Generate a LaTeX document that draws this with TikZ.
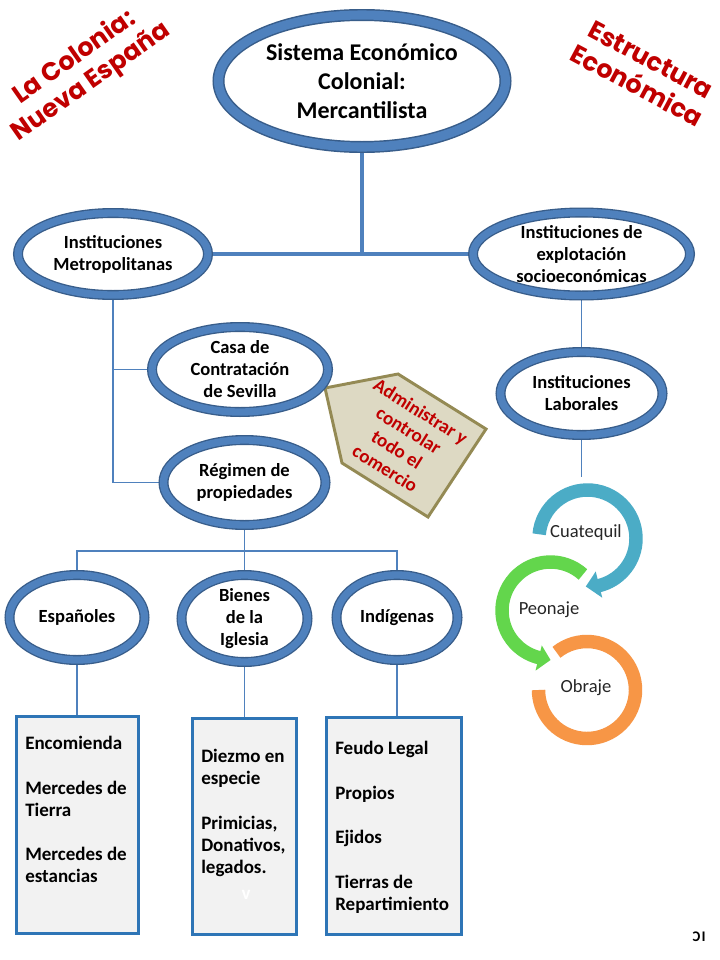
\documentclass[tikz,border=0pt]{standalone}
\usepackage{fontspec}
\setmainfont{Carlito}
\newfontfamily\titlefont{Poppins}
\usetikzlibrary{shapes.geometric,backgrounds}
\definecolor{bblue}{RGB}{79,129,189}
\definecolor{bdark}{RGB}{56,93,138}
\definecolor{boxblue}{RGB}{46,117,182}
\definecolor{boxfill}{RGB}{242,242,242}
\definecolor{tred}{RGB}{192,0,0}
\definecolor{penfill}{RGB}{221,217,195}
\definecolor{penline}{RGB}{148,138,84}
\definecolor{cyblue}{RGB}{75,172,198}
\definecolor{cygreen}{RGB}{99,214,76}
\definecolor{cyorange}{RGB}{247,150,70}
\begin{document}
\begin{tikzpicture}[x=0.75pt,y=-0.75pt,
  ell/.style={ellipse, draw=bdark, line width=1pt, double=bblue, double distance=5.5pt, fill=white, inner sep=0pt},
  etxt/.style={font=\fontsize{13.9pt}{16.5pt}\selectfont\bfseries, align=center, inner sep=0pt},
  btxt/.style={font=\fontsize{14.25pt}{16.5pt}\selectfont\bfseries, align=left, anchor=north west, inner sep=0pt},
  listbox/.style={draw=boxblue, line width=2.2pt, fill=boxfill, inner sep=0pt},
  thinline/.style={draw=bblue, line width=0.9pt},
  thickline/.style={draw=bblue, line width=3.5pt},
  cytxt/.style={font=\fontsize{13.9pt}{16pt}\selectfont, text=black!85, inner sep=0pt},
  ring/.style={line width=10.1pt, line cap=butt},
  ttl/.style={font=\titlefont\bfseries\fontsize{19pt}{22pt}\selectfont, text=tred, align=center, inner sep=0pt}
]
\useasboundingbox (0,0) rectangle (720,960);

% titles
\node[ttl, rotate=35] (t1) at (83,70) {La Colonia:\\Nueva España};
\node[ttl, rotate=-28] (t2) at (644,73) {Estructura\\Económica};

% pentagon callout
\draw[fill=penfill, draw=penline, line width=2.2pt, line join=miter]
  (325,388) -- (398,374) -- (486,429) -- (428,517) -- (342,463) -- cycle;
\node[font=\fontsize{14.3pt}{16.8pt}\selectfont\bfseries, text=tred, align=center, rotate=-32, inner sep=0pt] (admin) at (403,440) {Administrar y\\controlar\\todo el\\comercio};

% ellipses
\node[ell, line width=1.1pt, double distance=6.8pt, minimum width=287*0.75pt, minimum height=132*0.75pt] (top) at (362,81) {};
\node[etxt, font=\fontsize{18pt}{22pt}\selectfont\bfseries] (toptxt) at (top) {Sistema Económico\\Colonial:\\Mercantilista};

\node[ell, minimum width=190*0.75pt, minimum height=82*0.75pt] (metro) at (113,254) {};
\node[etxt] (metrotxt) at (metro) {Instituciones\\Metropolitanas};

\node[ell, minimum width=217*0.75pt, minimum height=83*0.75pt] (explo) at (581.5,254) {};
\node[etxt] (explotxt) at (explo) {Instituciones de\\explotación\\socioeconómicas};

\node[ell, minimum width=162*0.75pt, minimum height=83*0.75pt] (labor) at (581.5,393.5) {};
\node[etxt] (labortxt) at (labor) {Instituciones\\Laborales};

\node[ell, minimum width=176*0.75pt, minimum height=85*0.75pt] (casa) at (240,369.5) {};
\node[etxt] (casatxt) at (casa) {Casa de\\Contratación\\de Sevilla};

\node[ell, minimum width=162*0.75pt, minimum height=85*0.75pt] (regimen) at (244.5,482.5) {};
\node[etxt] (regimentxt) at (regimen) {Régimen de\\propiedades};

\node[ell, minimum width=135*0.75pt, minimum height=85*0.75pt] (esp) at (77,617.5) {};
\node[etxt] (esptxt) at (esp) {Españoles};

\node[ell, minimum width=126*0.75pt, minimum height=87*0.75pt] (bienes) at (244.5,618.5) {};
\node[etxt] (bienestxt) at (bienes) {Bienes\\de la\\Iglesia};

\node[ell, minimum width=121*0.75pt, minimum height=85*0.75pt] (ind) at (397,617.5) {};
\node[etxt] (indtxt) at (ind) {Indígenas};

% list boxes
\node[listbox, minimum width=122*0.75pt, minimum height=217*0.75pt] (b1) at (77.5,825) {};
\node[listbox, minimum width=104*0.75pt, minimum height=216*0.75pt] (b2) at (244.5,826.5) {};
\node[listbox, minimum width=135*0.75pt, minimum height=217*0.75pt] (b3) at (394,826) {};

\node[btxt] (b1t) at (25,736) {Encomienda\\[17pt]Mercedes de\\Tierra\\[17pt]Mercedes de\\estancias};
\node[btxt] (b2t) at (201,749) {Diezmo en\\especie\\[17pt]Primicias,\\Donativos,\\legados.};
\node[btxt] (b3t) at (335,741) {Feudo Legal\\[17pt]Propios\\[17pt]Ejidos\\[17pt]Tierras de\\Repartimiento};
\node[font=\fontsize{14.25pt}{16.5pt}\selectfont\bfseries, text=white, inner sep=0pt] (b2v) at (246,895) {v};

% cycle
\coordinate (co) at (587,690);
\coordinate (cg) at (550.5,610.5);
\coordinate (cb) at (587.5,538.5);
\draw[ring, cyorange] (co) ++(-129:48.5) arc[start angle=-129, end angle=180, radius=48.5];
\draw[ring, cygreen] (cg) ++(-48:48.5) arc[start angle=-48, end angle=-257, radius=48.5];
\fill[cygreen] ([shift={(-256:36)}]cg) -- ([shift={(-270:49.5)}]cg) -- ([shift={(-256:62)}]cg) -- cycle;
\draw[ring, cyblue] (cb) ++(-175:48.5) arc[start angle=-175, end angle=77, radius=48.5];
\fill[cyblue] ([shift={(76:34)}]cb) -- ([shift={(92:48)}]cb) -- ([shift={(76:61)}]cb) -- cycle;
\node[cytxt] (cuat) at (586,533) {Cuatequil};
\node[cytxt] (peon) at (549,610) {Peonaje};
\node[cytxt] (obra) at (586,688) {Obraje};

% mark
\node[font=\fontsize{11pt}{13pt}\selectfont\bfseries, inner sep=0pt] (ci) at (699,937) {\reflectbox{I\kern1pt C}};

% connectors
\begin{scope}[on background layer]
\fill[white] (0,0) rectangle (720,960);
\draw[thickline] (top.south) -- (top.south |- metro.east);
\draw[thickline] (metro.east) -- (explo.west);
\draw[thinline] (metro.south) -- (metro.south |- regimen.west) -- (regimen.west);
\draw[thinline] (metro.south |- casa.west) -- (casa.west);
\draw[thinline] (explo.south) -- (labor.north);
\coordinate (cytop) at (581.5,477);
\draw[thinline] (labor.south) -- (cytop);
\coordinate (busl) at (77,551);
\coordinate (busr) at (397,551);
\draw[thinline] (regimen.south) -- (regimen.south |- busl);
\draw[thinline] (esp.north) -- (busl) -- (busr) -- (ind.north);
\draw[thinline] (bienes.north) -- (bienes.north |- busl);
\draw[thinline] (esp.south) -- (esp.south |- b1.north);
\draw[thinline] (bienes.south) -- (bienes.south |- b2.north);
\draw[thinline] (ind.south) -- (ind.south |- b3.north);
\end{scope}
\end{tikzpicture}
\end{document}
